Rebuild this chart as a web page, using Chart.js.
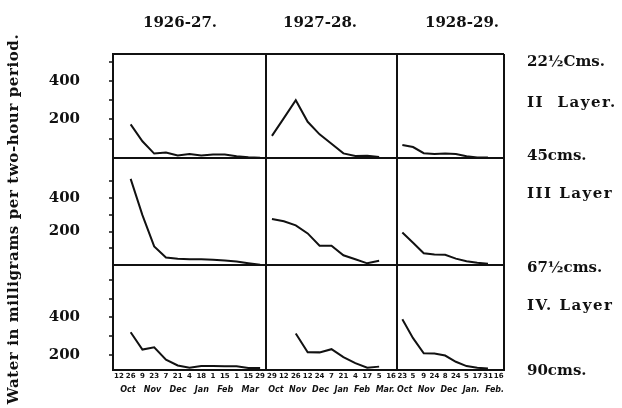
<!DOCTYPE html>
<html><head><meta charset="utf-8">
<script src="https://cdn.jsdelivr.net/npm/chart.js@4.4.1/dist/chart.umd.min.js"></script>
<style>
html,body{margin:0;padding:0;background:#fff;}
#wrap{position:relative;width:622px;height:408px;overflow:hidden;background:#fff;}
canvas{position:absolute;left:0;top:0;}
.t{position:absolute;font-family:'DejaVu Serif',serif;font-weight:bold;color:#111;white-space:nowrap;}
.yr{font-size:15px;line-height:18px;top:13px;}
.rl{font-size:15px;line-height:18px;left:527px;}
.ly{letter-spacing:1.5px;}
#ytitle{font-size:15px;line-height:18px;width:420px;text-align:center;left:-197px;top:210px;letter-spacing:0.6px;transform:rotate(-90deg);transform-origin:50% 50%;}
</style></head><body>
<div id="wrap">
<canvas id="c" width="622" height="408"></canvas>
<div class="t yr" style="left:143px">1926-27.</div>
<div class="t yr" style="left:283px">1927-28.</div>
<div class="t yr" style="left:425px">1928-29.</div>
<div class="t rl" style="top:52px">22½Cms.</div>
<div class="t rl ly" style="top:93px">II&nbsp; Layer.</div>
<div class="t rl" style="top:146px">45cms.</div>
<div class="t rl ly" style="top:184px">III Layer</div>
<div class="t rl" style="top:258px">67½cms.</div>
<div class="t rl ly" style="top:296px">IV. Layer</div>
<div class="t rl" style="top:361px">90cms.</div>
<div class="t" id="ytitle">Water in milligrams per two-hour period.</div>
</div>
<script>
// ---- tick labels / categories ----
const col1Dates = ['12','26','9','23','7','21','4','18','1','15','1','15','29'];
const col2Dates = ['29','12','26','12','24','7','21','4','17','5','16'];
const col3Dates = ['23','5','9','24','8','24','5','17','31','16'];
const col1Months = 'Oct   Nov   Dec   Jan   Feb   Mar';
const col2Months = 'Oct  Nov  Dec  Jan  Feb  Mar.';
const col3Months = 'Oct  Nov  Dec  Jan.  Feb.';
const row1Ticks = [100, 200, 300, 400, 500];
const row2Ticks = [100, 200, 300, 400, 500];
const row3Ticks = [200, 300, 400, 500, 600];
const labeledTicks = [200, 400];

// ---- series (water, mg per two-hour period) ----
// II Layer (22.5 - 45 cms)
const layer2_1926 = [null, 175, 87, 23, 28, 13, 21, 13, 18, 18, 9, 4, 2];
const layer2_1927 = [115, 207, 300, 188, 123, 74, 24, 11, 12, 5, null];
const layer2_1928 = [68, 57, 25, 21, 23, 21, 9, 3, 3, null];
// III Layer (45 - 67.5 cms)
const layer3_1926 = [null, 515, 298, 111, 45, 37, 35, 35, 32, 27, 21, 11, 2];
const layer3_1927 = [275, 262, 237, 189, 115, 115, 58, 34, 10, 25, null];
const layer3_1928 = [194, 133, 70, 63, 61, 38, 22, 13, 8, null];
// IV Layer (67.5 - 90 cms)
const layer4_1926 = [null, 321, 229, 241, 175, 144, 132, 141, 141, 140, 140, 131, 131];
const layer4_1927 = [null, null, 315, 215, 214, 231, 189, 157, 132, 138, null];
const layer4_1928 = [391, 290, 209, 208, 197, 164, 141, 132, 128, null];

const INK = '#111';
const CLEAR = 'rgba(0,0,0,0)';

function yScale(min, max, ticks, weight, stackWeight) {
  return {
    type: 'linear', position: 'left', stack: 'rows', stackWeight, weight,
    min, max,
    afterBuildTicks: s => { s.ticks = [min, ...ticks, max].map(v => ({ value: v })); },
    afterFit: s => { s.width = 113; },
    grid: {
      drawOnChartArea: true, drawTicks: true, tickLength: 4,
      color: c => (c.tick && (c.tick.value === min || c.tick.value === max)) ? INK : CLEAR,
      lineWidth: c => (c.tick && (c.tick.value === min || c.tick.value === max)) ? 2 : 0,
      tickColor: c => (c.tick && (c.tick.value === min || c.tick.value === max)) ? CLEAR : INK,
      tickWidth: 1.5
    },
    border: { display: true, color: INK, width: 2 },
    ticks: {
      padding: 29, color: INK, autoSkip: false,
      font: { family: 'DejaVu Serif', weight: 'bold', size: 15 },
      callback: v => labeledTicks.includes(v) ? String(v) : ''
    }
  };
}
function xScale(labels, months, stackWeight) {
  return {
    type: 'category', position: 'bottom', stack: 'cols', stackWeight,
    labels, offset: true,
    afterFit: s => { s.height = 25; },
    grid: {
      offset: true, drawTicks: false,
      color: c => (c.type !== 'tick' || c.index === 0) ? INK : CLEAR,
      lineWidth: c => (c.type !== 'tick' || c.index === 0) ? 2 : 0
    },
    border: { display: true, color: INK, width: 2 },
    ticks: {
      autoSkip: false, maxRotation: 0, minRotation: 0, padding: 2, color: INK,
      font: { family: 'DejaVu Sans', weight: 'bold', size: 7 }
    },
    title: {
      display: true, text: months, color: INK, padding: { top: 4, bottom: 0 },
      font: { family: 'DejaVu Sans', weight: 'bold', style: 'italic', size: 8 }
    }
  };
}
function series(data, x, y) {
  return { data, xAxisID: x, yAxisID: y, borderColor: INK, borderWidth: 2,
           pointRadius: 0, tension: 0, fill: false, spanGaps: false };
}

new Chart(document.getElementById('c'), {
  type: 'line',
  data: {
    datasets: [
      series(layer2_1926, 'x1', 'y1'), series(layer2_1927, 'x2', 'y1'), series(layer2_1928, 'x3', 'y1'),
      series(layer3_1926, 'x1', 'y2'), series(layer3_1927, 'x2', 'y2'), series(layer3_1928, 'x3', 'y2'),
      series(layer4_1926, 'x1', 'y3'), series(layer4_1927, 'x2', 'y3'), series(layer4_1928, 'x3', 'y3')
    ]
  },
  options: {
    responsive: false, animation: false, devicePixelRatio: 1,
    layout: { padding: { left: 0, right: 118, top: 54, bottom: 10 } },
    plugins: { legend: { display: false }, tooltip: { enabled: false }, title: { display: false } },
    scales: {
      x1: xScale(col1Dates, col1Months, 153),
      x2: xScale(col2Dates, col2Months, 131),
      x3: xScale(col3Dates, col3Months, 107),
      y1: yScale(0, 540, row1Ticks, 3, 105),
      y2: yScale(0, 640, row2Ticks, 2, 108),
      y3: yScale(120, 680, row3Ticks, 1, 106)
    }
  }
});
</script>
</body></html>
